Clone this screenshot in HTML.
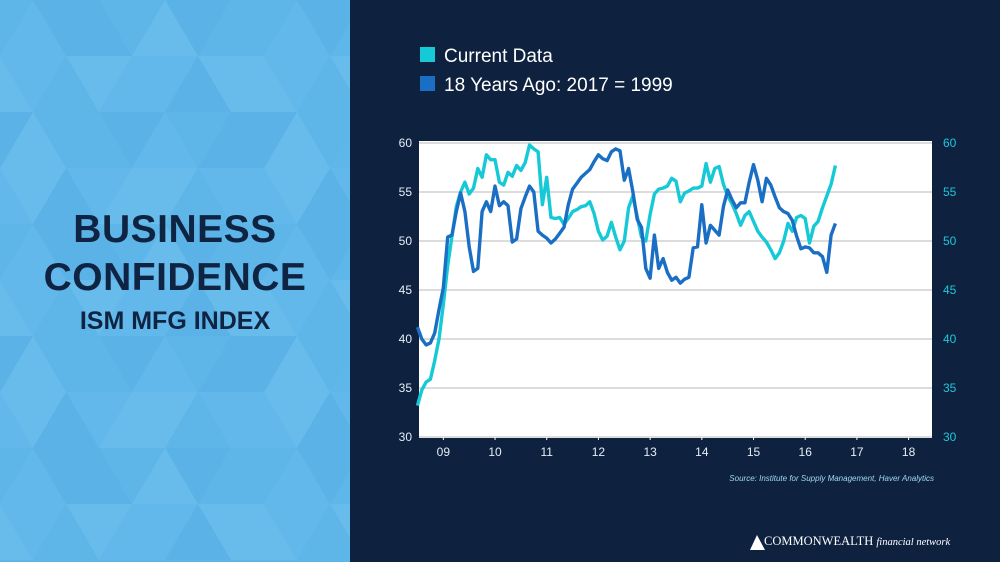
<!DOCTYPE html>
<html><head><meta charset="utf-8"><style>
html,body{margin:0;padding:0;width:1000px;height:562px;overflow:hidden;background:#0e2240;font-family:"Liberation Sans",sans-serif}
#left{position:absolute;left:0;top:0;width:350px;height:562px;background:#5fb6e9;overflow:hidden}
.t{position:absolute;left:0;width:350px;text-align:center;color:#0f2342;font-weight:bold}
#chart{position:absolute;left:0;top:0;display:block}
</style></head><body>
<div id="left">
<svg width="350" height="562" style="position:absolute;left:0;top:0;display:block">
<g id="tri"></g></svg>
<div class="t" style="top:208px;font-size:39px;letter-spacing:0.5px">BUSINESS</div>
<div class="t" style="top:256px;font-size:39px;letter-spacing:0.5px">CONFIDENCE</div>
<div class="t" style="top:307px;font-size:25px">ISM MFG INDEX</div>
</div>
<svg id="chart" width="1000" height="562">
<rect x="420" y="47" width="15" height="15" fill="#16c9d6"/>
<text x="444" y="62" fill="#fff" font-size="19">Current Data</text>
<rect x="420" y="76" width="15" height="15" fill="#1a6fc4"/>
<text x="444" y="91" fill="#fff" font-size="19">18 Years Ago: 2017 = 1999</text>
<rect x="419" y="141" width="513" height="297" fill="#fff"/>
<g id="grid"></g><g id="lines"></g><g id="axes"></g>
<text x="934" y="481" fill="#9fd8f0" font-size="8" font-style="italic" text-anchor="end">Source: Institute for Supply Management, Haver Analytics</text>
<text x="764" y="545" fill="#fff" font-size="12.5" font-family="Liberation Serif">COMMONWEALTH <tspan font-style="italic" font-size="10.5">financial network</tspan></text>
<path d="M757 535 L750 550 L765 550 Z" fill="#fff"/>
</svg>
<script>
const cur=[33.2,34.8,35.6,35.9,37.8,40.0,43.5,47.5,50.5,53.5,55.0,56.0,54.8,55.4,57.4,56.5,58.8,58.3,58.3,56.0,55.7,57.0,56.6,57.7,57.2,58.0,59.8,59.4,59.1,53.7,56.5,52.4,52.3,52.4,51.7,52.3,53.0,53.2,53.5,53.6,54.0,52.8,51.0,50.1,50.5,51.9,50.4,49.1,50.0,53.4,54.6,52.5,50.4,50.0,52.7,54.8,55.3,55.4,55.6,56.4,56.1,54.0,54.9,55.1,55.4,55.4,55.6,57.9,56.0,57.4,57.6,55.8,54.6,53.8,52.8,51.6,52.6,53.0,52.0,51.0,50.4,49.9,49.1,48.2,48.8,50.0,51.8,51.0,52.4,52.6,52.3,49.8,51.5,52.0,53.4,54.6,55.8,57.7];
const ago=[41.2,40.0,39.4,39.6,40.6,43.0,45.2,50.4,50.6,53.0,54.9,53.0,49.4,46.9,47.2,53.0,54.0,53.0,55.6,53.6,54.0,53.6,49.9,50.2,53.3,54.5,55.6,55.0,51.0,50.6,50.3,49.8,50.2,50.8,51.4,53.7,55.3,55.9,56.5,56.9,57.3,58.1,58.8,58.4,58.2,59.1,59.4,59.2,56.2,57.4,55.0,52.2,51.4,47.2,46.2,50.6,47.2,48.2,46.8,46.0,46.3,45.7,46.1,46.3,49.3,49.4,53.7,49.8,51.6,51.1,50.6,53.5,55.2,54.2,53.4,53.9,53.9,56.0,57.8,56.2,54.0,56.4,55.7,54.5,53.4,53.0,52.8,52.1,50.5,49.2,49.4,49.3,48.8,48.8,48.4,46.8,50.6,51.8];
const yTicks=[30,35,40,45,50,55,60];
const yearLabels=["09","10","11","12","13","14","15","16","17","18"];
const NS="http://www.w3.org/2000/svg";
function X(m){return 417.5+m*4.308;}
function Y(v){return 437-(v-30)*9.8;}
function el(t,a,p){const e=document.createElementNS(NS,t);for(const k in a)e.setAttribute(k,a[k]);p.appendChild(e);return e;}
const grid=document.getElementById('grid'),axes=document.getElementById('axes'),lines=document.getElementById('lines');
yTicks.forEach(v=>{
 const g=el('line',{x1:419,x2:932,y1:Y(v),y2:Y(v),stroke:'#c8c8c8','stroke-width':1.3},grid);
 
 
 const l=el('text',{x:412,y:Y(v)+4,fill:'#e6eef6','font-size':12,'text-anchor':'end'},axes);l.textContent=v;
 
 
 const r=el('text',{x:943,y:Y(v)+4,fill:'#1ec8d8','font-size':12},axes);r.textContent=v;
 
 
});
yearLabels.forEach((s,i)=>{
 const x=X(6+12*i);
 const tk=el('line',{x1:x,x2:x,y1:437,y2:440,stroke:'#fff'},axes);
 
 
 const t=el('text',{x:x,y:456,fill:'#e6eef6','font-size':12,'text-anchor':'middle'},axes);t.textContent=s;
 
 
});
function pts(a){return a.map((v,i)=>X(i).toFixed(1)+','+Y(v).toFixed(1)).join(' ');}
const l1=el('polyline',{points:pts(cur),fill:'none',stroke:'#16c9d6','stroke-width':3.4,'stroke-linejoin':'round'},lines);


const l2=el('polyline',{points:pts(ago),fill:'none',stroke:'#1a6fc4','stroke-width':3.4,'stroke-linejoin':'round'},lines);


// decorative triangles (subtle)
const tri=document.getElementById('tri');const cols=['#62b8ea','#5bb2e6','#68bcec','#5eb5e8'];
for(let r=0;r<10;r++)for(let c=-2;c<5;c++){const h=56,w=33,x=c*w*2+(r%2)*w,y=r*h;
 el('path',{d:`M${x} ${y+h} L${x+w} ${y} L${x+2*w} ${y+h}Z`,fill:cols[(r*3+c+8)%4]},tri);
 el('path',{d:`M${x+w} ${y} L${x+3*w} ${y} L${x+2*w} ${y+h}Z`,fill:cols[(r+c*2+9)%4]},tri);}
</script>
</body></html>
